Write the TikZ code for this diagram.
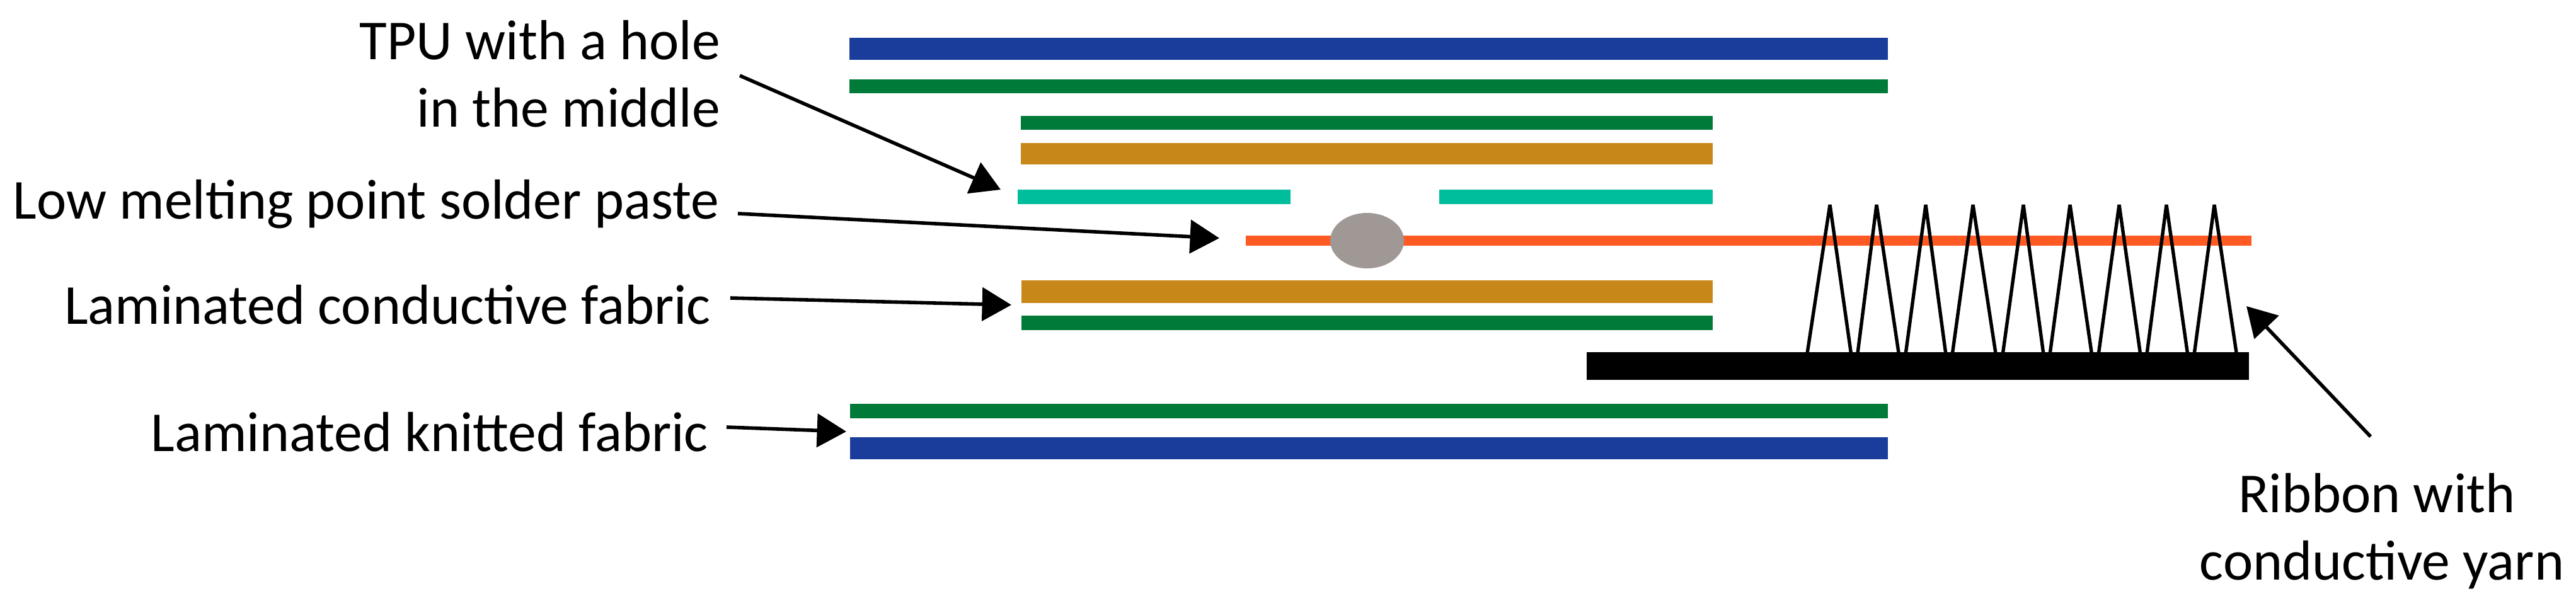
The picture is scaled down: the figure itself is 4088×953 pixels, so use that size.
\documentclass[tikz,border=0pt]{standalone}
\usepackage{fontspec}
\setmainfont{Carlito}
\usetikzlibrary{arrows.meta,shapes.geometric}
\definecolor{knitblue}{HTML}{1A3C9B}
\definecolor{laygreen}{HTML}{007A38}
\definecolor{condorange}{HTML}{C88719}
\definecolor{tputeal}{HTML}{00BE9B}
\definecolor{yarnred}{HTML}{FF5A23}
\definecolor{soldergray}{HTML}{A09895}
\newcommand{\layerbar}[6]{%
  \pgfmathsetmacro{\cxv}{(#3+#5)/2}\pgfmathsetmacro{\cyv}{(#4+#6)/2}%
  \pgfmathsetmacro{\wv}{(#5-#3)*0.25}\pgfmathsetmacro{\hv}{(#6-#4)*0.25}%
  \node[layer,fill=#2,minimum width=\wv pt,minimum height=\hv pt] (#1) at (\cxv,\cyv) {};}
\tikzset{
  x=0.25pt,y=-0.25pt,
  layer/.style={draw=none,inner sep=0pt,outer sep=0pt,rectangle},
  lbl/.style={inner sep=0pt,outer sep=0pt,font=\fontsize{22.4pt}{26.8pt}\selectfont,text=black},
  pointer/.style={line width=1.4pt,draw=black,-{Triangle[length=11.6pt,width=13.2pt,fill=black]}},
  yarn/.style={line width=1.35pt,draw=black,line join=bevel}
}
\begin{document}
\begin{tikzpicture}
\useasboundingbox (0,0) rectangle (4088,953);
\fill[white] (0,0) rectangle (4088,953);
% layers
\layerbar{blueTop}{knitblue}{1348}{60}{2996}{95}
\layerbar{greenTop}{laygreen}{1348}{126}{2996}{148}
\layerbar{greenIn}{laygreen}{1620}{184}{2718}{206}
\layerbar{orangeIn}{condorange}{1620}{227}{2718}{261}
\layerbar{tpuL}{tputeal}{1615}{301}{2048}{324}
\layerbar{tpuR}{tputeal}{2284}{301}{2718}{324}
\layerbar{yarnLine}{yarnred}{1977}{374}{3573}{390}
\node[ellipse,fill=soldergray,inner sep=0pt,minimum width=29.25pt,minimum height=22pt] (solder) at (2169.5,382) {};
\layerbar{orangeLow}{condorange}{1621}{445}{2718}{481}
\layerbar{greenLow}{laygreen}{1621}{501}{2718}{524}
\layerbar{ribbon}{black}{2518}{559}{3569}{603}
\layerbar{greenBot}{laygreen}{1349}{641}{2996}{664}
\layerbar{blueBot}{knitblue}{1349}{694}{2996}{729}
% conductive yarn
\draw[yarn] (2862,600) -- (2904,325) -- (2943,600) -- (2978,325) -- (3019,600) -- (3056,325) -- (3093,600) -- (3131,325) -- (3173,600) -- (3211,325) -- (3248,600) -- (3285,325) -- (3325,600) -- (3363,325) -- (3402,600) -- (3438,325) -- (3477,600) -- (3514,325) -- (3555,600);
% labels
\node[lbl,anchor=base east] (lTpuA) at (1143,94) {TPU with a hole};
\node[lbl,anchor=base east] (lTpuB) at (1143,201.5) {in the middle};
\node[lbl,anchor=base east] (lSolder) at (1141,347.5) {Low melting point solder paste};
\node[lbl,anchor=base east] (lCond) at (1128,514) {Laminated conductive fabric};
\node[lbl,anchor=base east] (lKnit) at (1124,716) {Laminated knitted fabric};
\node[lbl,anchor=base] (lRibA) at (3772,813) {Ribbon with};
\node[lbl,anchor=base] (lRibB) at (3780,920.7) {conductive yarn};
% connector ends
\coordinate (aTpuS) at (1174,120);
\coordinate (aTpuE) at (1588,301);
\coordinate (aSolS) at (1171,339);
\coordinate (aSolE) at (1935,378);
\coordinate (aCondS) at (1159,473);
\coordinate (aCondE) at (1605,484);
\coordinate (aKnitS) at (1153,678);
\coordinate (aKnitE) at (1343,685);
\coordinate (aRibS) at (3762,693);
\coordinate (aRibE) at (3565,486);
\draw[pointer] (aTpuS) -- (aTpuE);
\draw[pointer] (aSolS) -- (aSolE);
\draw[pointer] (aCondS) -- (aCondE);
\draw[pointer] (aKnitS) -- (aKnitE);
\draw[pointer] (aRibS) -- (aRibE);
\end{tikzpicture}
\end{document}
